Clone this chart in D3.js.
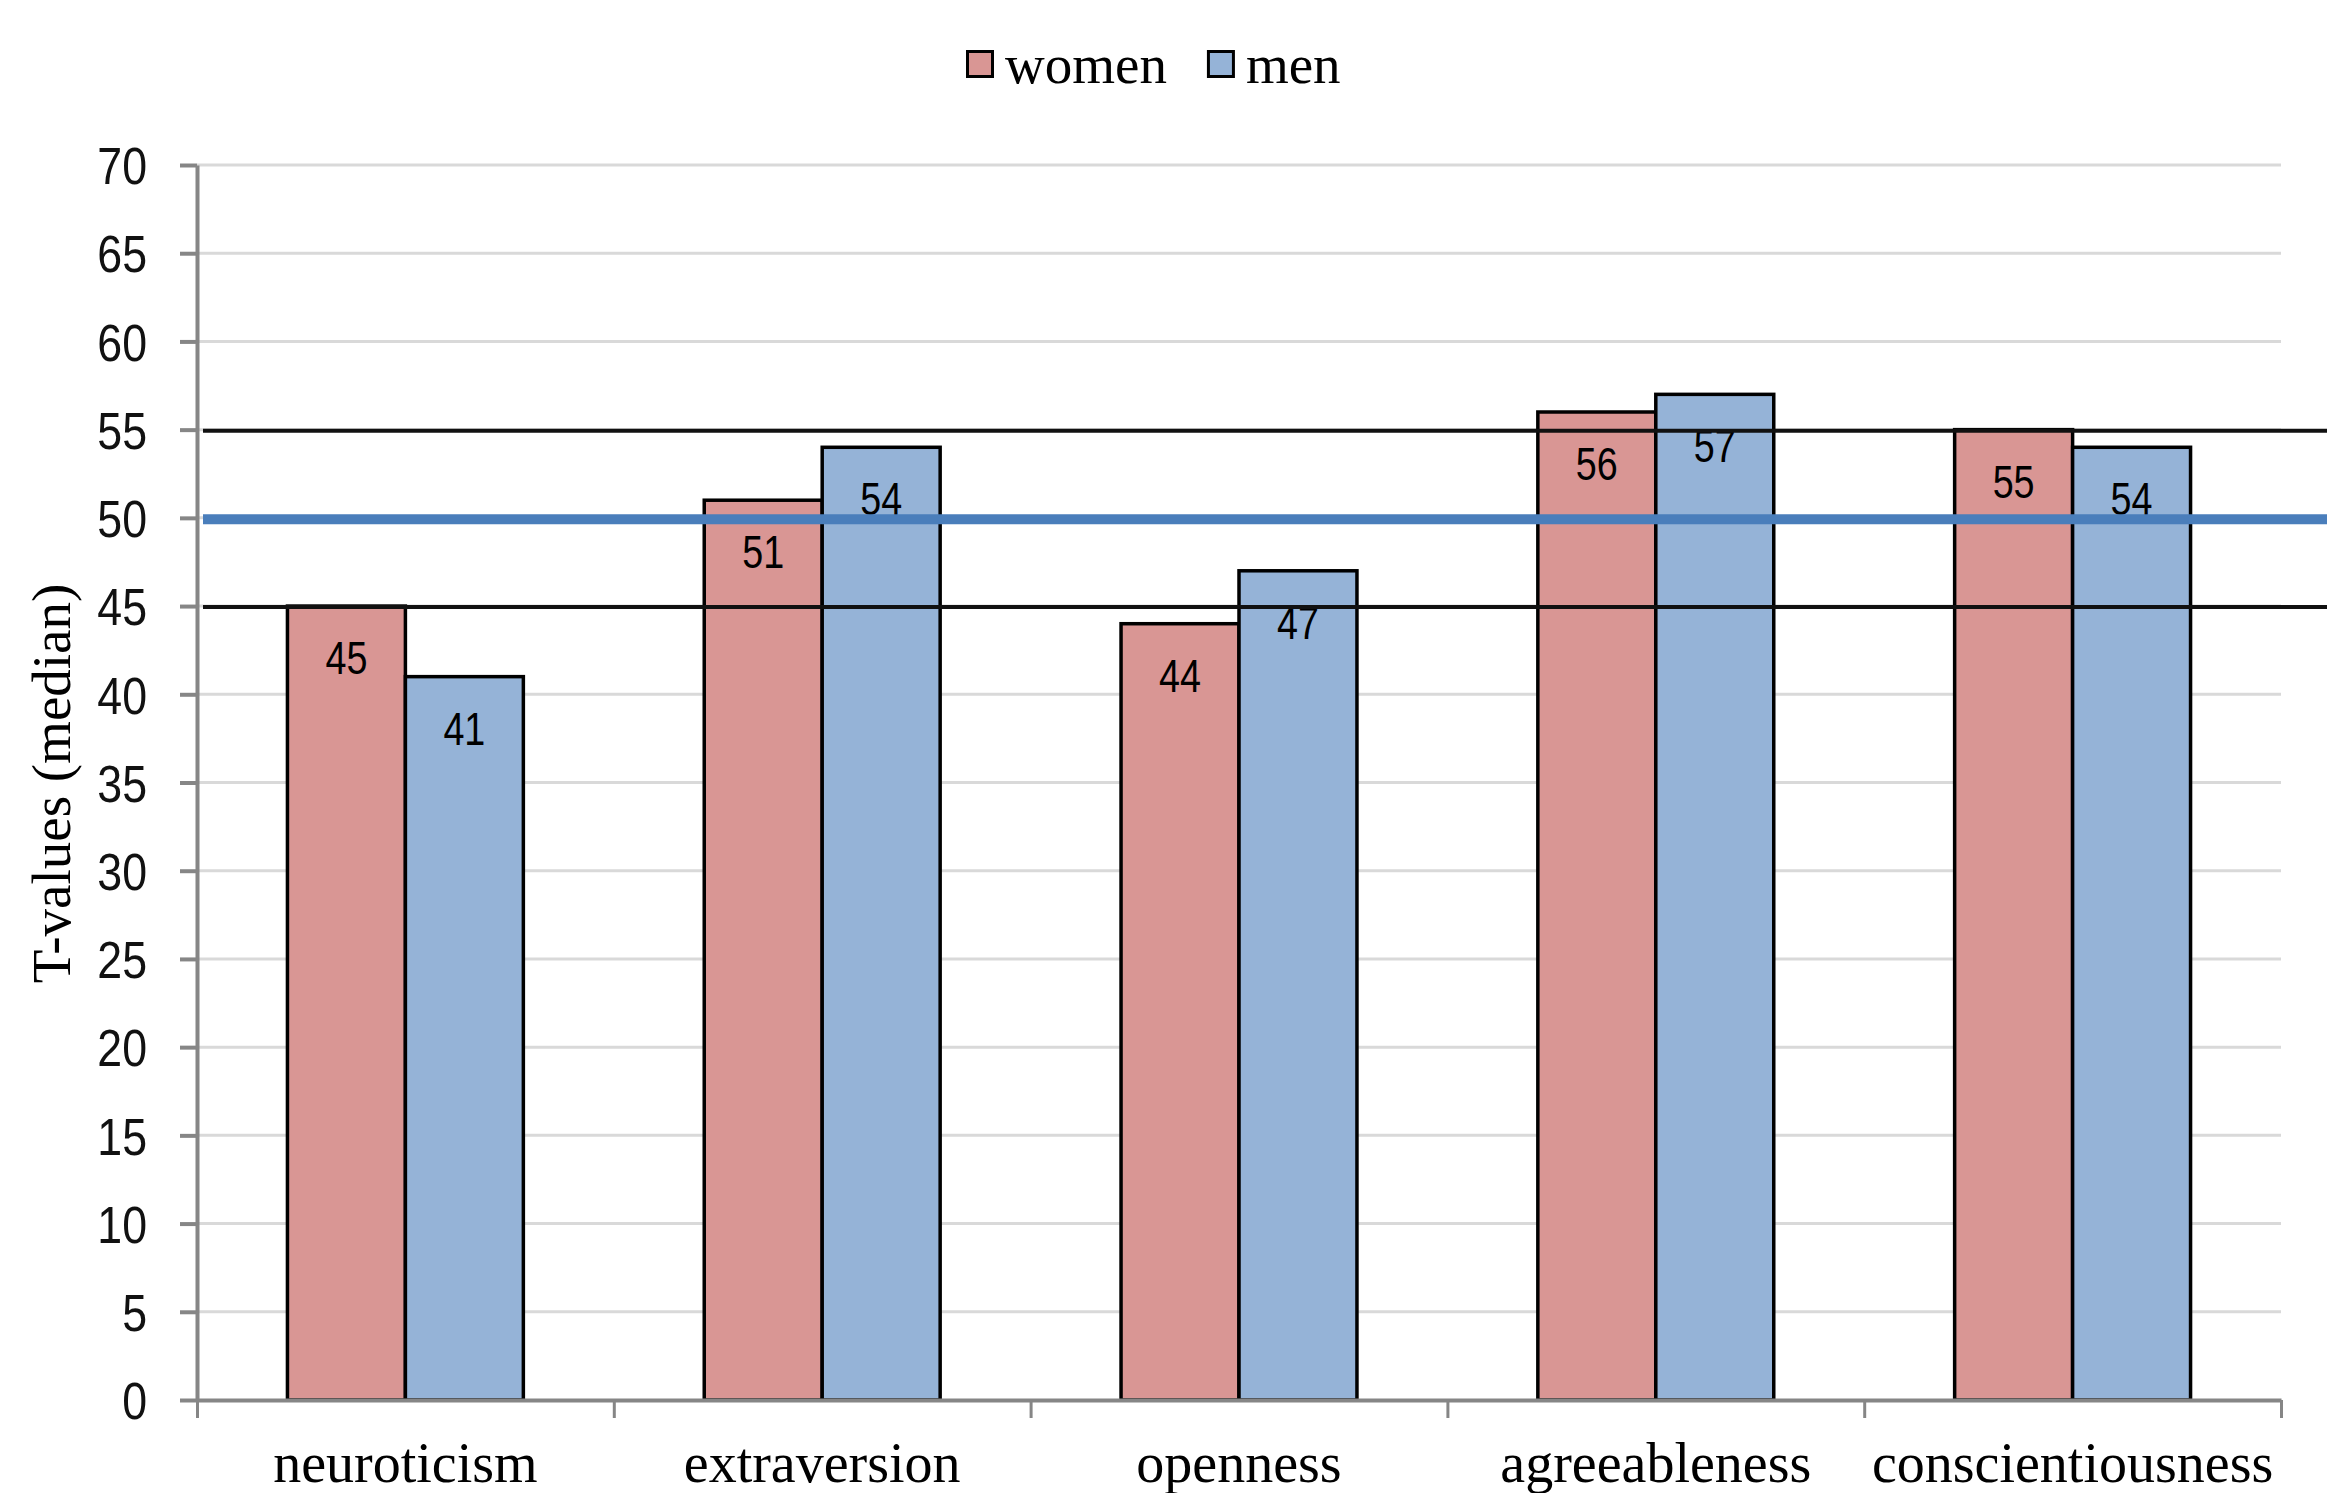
<!DOCTYPE html>
<html>
<head>
<meta charset="utf-8">
<script src="https://cdn.jsdelivr.net/npm/d3@7"></script>
<style>
  body { margin: 0; background: #fff; }
</style>
</head>
<body>
<div id="chart"></div>
<script>
// chart values
const categories = ["neuroticism", "extraversion", "openness", "agreeableness", "conscientiousness"];
const seriesNames = ["women", "men"];
const women = [45, 51, 44, 56, 55];
const men = [41, 54, 47, 57, 54];
const yTicks = [0, 5, 10, 15, 20, 25, 30, 35, 40, 45, 50, 55, 60, 65, 70];
// reference lines drawn across the plot
const refLines = [55, 50, 45];

const colors = { women: "#d99694", men: "#95b3d7" };

const W = 2327, H = 1493;
const margin = { top: 165, right: 46, bottom: 93, left: 197 },
    width = W - margin.left - margin.right,
    height = H - margin.top - margin.bottom;

const svg = d3.select("#chart")
    .append("svg")
    .attr("width", W)
    .attr("height", H)
    .style("display", "block");

const g = svg.append("g")
    .attr("transform", `translate(${margin.left},${margin.top})`);

// scales
const yScale = d3.scaleLinear().domain([0, 70]).range([height, 0]);

const x0 = d3.scaleBand()
    .domain(categories)
    .range([0, width])
    .paddingInner(0.434)
    .paddingOuter(0.217);

const x1 = d3.scaleBand()
    .domain(seriesNames)
    .range([0, x0.bandwidth()]);

// category boundaries for the tick marks
const xEdges = d3.scaleLinear().domain([0, categories.length]).range([0, width]);

// gridlines
g.append("g")
    .selectAll("line")
    .data(yTicks.filter(d => d > 0))
    .enter()
    .append("line")
    .attr("x1", 0)
    .attr("x2", width)
    .attr("y1", d => yScale(d))
    .attr("y2", d => yScale(d))
    .attr("stroke", "#d9d9d9")
    .attr("stroke-width", 3);

// y axis
const yAxis = d3.axisLeft(yScale).tickValues(yTicks).tickSize(17).tickSizeOuter(0);
const yG = g.append("g").attr("class", "y-axis").call(yAxis);
yG.select(".domain").attr("stroke", "#868686").attr("stroke-width", 4);
yG.selectAll(".tick line").attr("stroke", "#868686").attr("stroke-width", 4);
yG.selectAll(".tick text")
    .attr("x", 0)
    .attr("dy", "0.36em")
    .attr("transform", "translate(-50,0) scale(0.86,1)")
    .attr("text-anchor", "end")
    .attr("fill", "#111")
    .style("font-family", "'Liberation Sans', Arial, sans-serif")
    .style("font-size", "52px");

// bars
const rows = categories.map((c, i) => ({ category: c, women: women[i], men: men[i] }));

const groups = g.append("g")
    .selectAll("g")
    .data(rows)
    .enter()
    .append("g")
    .attr("transform", d => `translate(${x0(d.category)},0)`);

groups.selectAll("rect")
    .data(d => seriesNames.map(s => ({ key: s, value: d[s] })))
    .enter()
    .append("rect")
    .attr("x", d => x1(d.key))
    .attr("y", d => yScale(d.value))
    .attr("width", x1.bandwidth())
    .attr("height", d => height - yScale(d.value))
    .attr("fill", d => colors[d.key])
    .attr("stroke", "#000")
    .attr("stroke-width", 3.5);

// bar labels (inside end)
groups.selectAll("text")
    .data(d => seriesNames.map(s => ({ key: s, value: d[s] })))
    .enter()
    .append("text")
    .attr("transform", d => `translate(${x1(d.key) + x1.bandwidth() / 2},${yScale(d.value) + 68}) scale(0.82,1)`)
    .attr("text-anchor", "middle")
    .style("font-family", "'Liberation Sans', Arial, sans-serif")
    .style("font-size", "46px")
    .attr("fill", "#000")
    .text(d => d.value);

// x axis: category boundary ticks
const xAxis = d3.axisBottom(xEdges)
    .tickValues(d3.range(categories.length + 1))
    .tickFormat("")
    .tickSize(18)
    .tickSizeOuter(0);
const xG = g.append("g")
    .attr("transform", `translate(0,${height})`)
    .call(xAxis);
xG.select(".domain").attr("stroke", "#868686").attr("stroke-width", 4);
xG.selectAll(".tick line").attr("stroke", "#868686").attr("stroke-width", 3);

// category labels
g.append("g")
    .selectAll("text")
    .data(categories)
    .enter()
    .append("text")
    .attr("x", d => x0(d) + x0.bandwidth() / 2)
    .attr("y", height + 82)
    .attr("text-anchor", "middle")
    .style("font-family", "'Liberation Serif', 'Times New Roman', serif")
    .style("font-size", "56px")
    .text(d => d);

// reference lines
const refG = g.append("g");
refLines.forEach(v => {
    const blue = v === 50;
    refG.append("line")
        .attr("x1", 6)
        .attr("x2", W - margin.left)
        .attr("y1", yScale(v) + (blue ? 1.5 : 1))
        .attr("y2", yScale(v) + (blue ? 1.5 : 1))
        .attr("stroke", blue ? "#4a7ebb" : "#111")
        .attr("stroke-width", blue ? 10 : 4);
});

// y axis title
svg.append("text")
    .attr("transform", `translate(70,${margin.top + height * 0.5 + 1}) rotate(-90)`)
    .attr("text-anchor", "middle")
    .style("font-family", "'Liberation Serif', 'Times New Roman', serif")
    .style("font-size", "55px")
    .text("T-values (median)");

// legend
const legend = svg.append("g").attr("transform", "translate(966,0)");
let lx = 0;
seriesNames.forEach(s => {
    legend.append("rect")
        .attr("x", lx + 1.5)
        .attr("y", 51.5)
        .attr("width", 25)
        .attr("height", 25)
        .attr("fill", colors[s])
        .attr("stroke", "#000")
        .attr("stroke-width", 3);
    const t = legend.append("text")
        .attr("x", lx + 39)
        .attr("y", 83)
        .style("font-family", "'Liberation Serif', 'Times New Roman', serif")
        .style("font-size", "55px")
        .text(s);
    lx += 39 + t.node().getComputedTextLength() + 40;
});
</script>
</body>
</html>
